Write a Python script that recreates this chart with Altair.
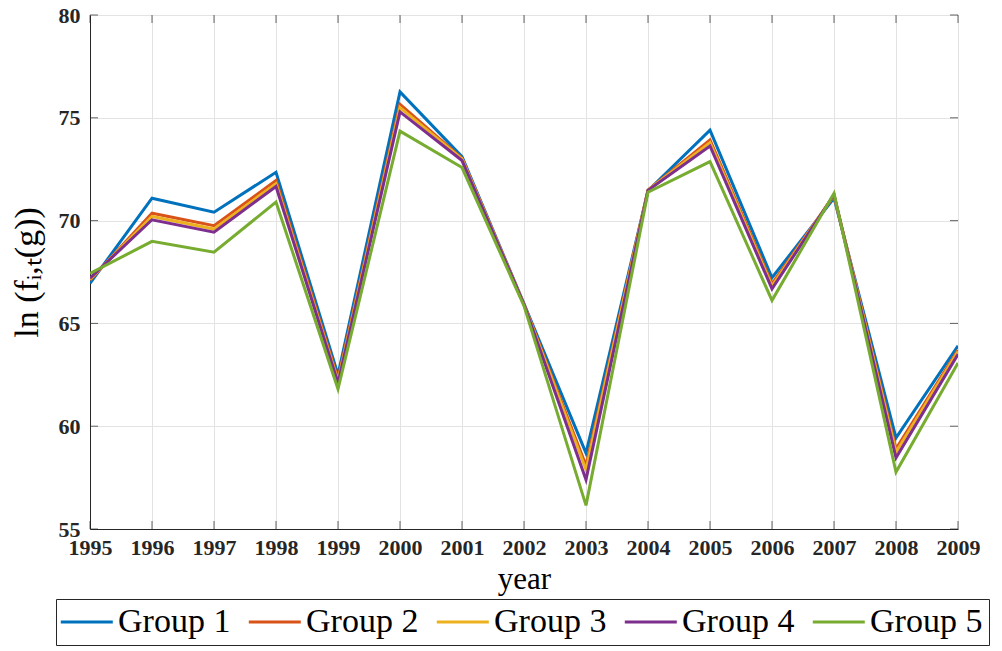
import altair as alt
import pandas as pd

years = list(range(1995, 2010))
groups = ["Group 1", "Group 2", "Group 3", "Group 4", "Group 5"]
colors = ["#0072BD", "#D95319", "#EDB120", "#7E2F8E", "#77AC30"]

g1 = [66.95, 71.09, 70.41, 72.35, 62.50, 76.26, 73.11, 65.95, 58.69, 71.45, 74.40, 67.22, 71.10, 59.43, 63.91]
g2 = [67.10, 70.36, 69.75, 71.95, 62.30, 75.66, 73.03, 65.93, 58.09, 71.48, 73.92, 66.92, 71.22, 58.90, 63.70]
g3 = [67.15, 70.20, 69.59, 71.80, 62.20, 75.50, 73.00, 65.92, 57.88, 71.48, 73.79, 66.81, 71.24, 58.74, 63.63]
g4 = [67.20, 70.04, 69.44, 71.66, 62.10, 75.29, 72.92, 65.92, 57.40, 71.47, 73.63, 66.68, 71.26, 58.46, 63.50]
g5 = [67.43, 68.99, 68.46, 70.90, 61.81, 74.35, 72.58, 65.85, 56.15, 71.38, 72.87, 66.12, 71.33, 57.77, 63.07]
series = [g1, g2, g3, g4, g5]

y_ticks = [55, 60, 65, 70, 75, 80]

rows = []
for name, vals in zip(groups, series):
    for yr, v in zip(years, vals):
        rows.append({"year": yr, "value": v, "group": name})
df = pd.DataFrame(rows)
df_years = pd.DataFrame({"year": years})
df_yt = pd.DataFrame({"value": y_ticks})

AX = "#262626"
xscale = alt.Scale(domain=[1995, 2009], nice=False, zero=False)
yscale = alt.Scale(domain=[55, 80], nice=False, zero=False)

lines = alt.Chart(df).mark_line(strokeWidth=3, clip=True).encode(
    x=alt.X("year:Q", scale=xscale,
            axis=alt.Axis(values=years, format="d", title="year", tickSize=0,
                          labelPadding=8, labelFont="Liberation Serif",
                          labelFontWeight="bold", labelFontSize=22, labelColor=AX,
                          titleFont="Liberation Serif", titleFontWeight="normal",
                          titleFontSize=31, titleColor="#000000", titlePadding=6,
                          gridColor="#e3e3e3", domainColor=AX, labelFlush=False)),
    y=alt.Y("value:Q", scale=yscale,
            axis=alt.Axis(values=y_ticks, title="ln (fᵢ,ₜ(g))", tickSize=0,
                          labelPadding=10, labelFont="Liberation Serif",
                          labelFontWeight="bold", labelFontSize=22, labelColor=AX,
                          titleFont="Liberation Serif", titleFontWeight="normal",
                          titleFontSize=34, titleColor="#000000", titlePadding=14,
                          gridColor="#e3e3e3", domainColor=AX)),
    color=alt.Color("group:N", scale=alt.Scale(domain=groups, range=colors),
                    legend=alt.Legend(title=None, orient="none", direction="horizontal",
                                      legendX=-34, legendY=584,
                                      symbolType="M-1.4,0H2.6", symbolSize=676,
                                      symbolStrokeWidth=3, symbolFillColor="transparent",
                                      labelFont="Liberation Serif",
                                      labelFontSize=34, labelColor="#000000",
                                      labelOffset=22, columnPadding=11,
                                      strokeColor=AX, fillColor="white",
                                      padding=6)),
)

bottom_ticks = alt.Chart(df_years).mark_tick(orient="vertical", size=8, thickness=1,
                                             color=AX, yOffset=-4).encode(
    x=alt.X("year:Q", scale=xscale), y=alt.datum(55))
top_ticks = alt.Chart(df_years).mark_tick(orient="vertical", size=8, thickness=1,
                                          color=AX, yOffset=4).encode(
    x=alt.X("year:Q", scale=xscale), y=alt.datum(80))
left_ticks = alt.Chart(df_yt).mark_tick(orient="horizontal", size=8, thickness=1,
                                        color=AX, xOffset=4).encode(
    y=alt.Y("value:Q", scale=yscale), x=alt.datum(1995))
right_ticks = alt.Chart(df_yt).mark_tick(orient="horizontal", size=8, thickness=1,
                                         color=AX, xOffset=-4).encode(
    y=alt.Y("value:Q", scale=yscale), x=alt.datum(2009))

chart = alt.layer(lines, bottom_ticks, top_ticks, left_ticks, right_ticks).properties(
    width=868, height=514,
    autosize=alt.AutoSizeParams(type="none"),
    padding={"left": 82, "top": 7, "right": 36, "bottom": 122},
).configure_view(stroke=AX, strokeWidth=1).configure(background="white")

chart.save("out.html", embed_options={"renderer": "svg", "actions": False})
